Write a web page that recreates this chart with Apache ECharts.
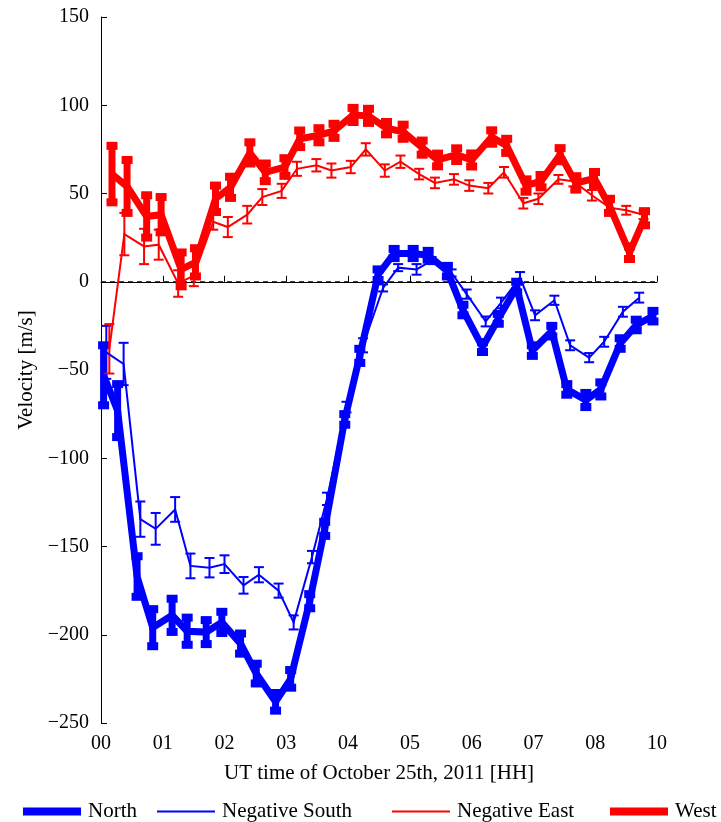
<!DOCTYPE html>
<html>
<head>
<meta charset="utf-8">
<script src="https://cdn.jsdelivr.net/npm/echarts@6/dist/echarts.min.js"></script>
<style>
html,body{margin:0;padding:0;background:#fff;}
#chart{width:721px;height:822px;}
</style>
</head>
<body>
<div id="chart"></div>
<script>
// x tick labels (axis units 0..9)
const xTickLabels = ['00','01','02','03','04','05','06','07','08','10'];
const yTicks = [-250,-200,-150,-100,-50,0,50,100,150];

// zero reference line
const zeroTime = [0, 9];
const zeroVel = [0, 0];

// North (thick blue)
const northTime = [0.042,0.269,0.584,0.837,1.151,1.395,1.703,1.956,2.259,2.513,2.826,3.070,3.378,3.621,3.946,4.189,4.485,4.745,5.053,5.296,5.607,5.859,6.175,6.431,6.729,6.982,7.297,7.540,7.848,8.091,8.404,8.664,8.935];
const northVel  = [-53,-73,-167,-196,-189,-198,-198.5,-193,-205,-222,-238,-225,-181,-140,-78,-42,4,16,16,15,6,-16,-37,-21,-3,-39,-28,-61,-67,-61,-35,-24.5,-19.5];
const northErr  = [17,15,11.5,10.5,9.4,7.7,6.8,6,5.7,5.6,5,5,4,4,3,4,3,2.6,2.6,2.5,3,3,2.8,2.8,3,3,3,3,4,4,3,3,3];

// Negative South (thin blue)
const southTime = [0.086,0.366,0.637,0.885,1.200,1.448,1.756,1.999,2.307,2.556,2.875,3.118,3.415,3.658,3.973,4.242,4.566,4.810,5.108,5.351,5.675,5.919,6.227,6.475,6.783,7.026,7.339,7.594,7.902,8.145,8.448,8.712];
const southVel  = [-40,-46.6,-134.5,-140,-129,-161,-162,-160,-172,-166,-175,-193,-156,-123,-71,-36,-3.5,8,7,12,5,-7,-22.5,-12,2.5,-19,-10.5,-36,-43,-34,-17,-9];
const southErr  = [15,12,10,9,7,7,5.5,5,4.7,4.3,4,4,3.5,3.5,3,4,2,2,3,2,2,2.6,2.8,3,3,2.8,2.6,2.8,2.6,2.8,2.8,2.8];

// Negative East (thin red)
const eastTime = [0.135,0.378,0.697,0.934,1.249,1.502,1.816,2.053,2.367,2.611,2.924,3.172,3.486,3.730,4.043,4.286,4.594,4.848,5.150,5.405,5.713,5.961,6.269,6.523,6.836,7.080,7.404,7.647,7.946,8.231,8.502,8.782];
const eastVel  = [-38,27,20,21,-1,3.5,34,31,38,48,51.5,64,66,63,65,75,63,68,61,56,58,54.5,53,62,44.5,47,58,57,49,42,40.5,38];
const eastErr  = [14,12,10,8.5,7.5,6,4.5,5.7,5,4.5,4,4,3.5,4,3.5,3.5,3.5,3.5,3,3,3,3,3,3,3,3,2.5,3,3,3,2.5,2.5];

// West (thick red)
const westTime = [0.178,0.422,0.739,0.973,1.297,1.529,1.853,2.097,2.410,2.659,2.977,3.216,3.528,3.772,4.080,4.330,4.621,4.891,5.199,5.448,5.757,6.000,6.324,6.567,6.880,7.123,7.432,7.686,7.988,8.231,8.555,8.798];
const westVel  = [61,54,37,38,7,11,47,53.5,73,62,65,81,83,85.5,94.5,94,87,85,76,69,72,69,82,77,54.5,57,72,56,58.5,43,16.5,36];
const westErr  = [16,15,12,10,9.6,8,7.5,6,6,5,5,4.7,4,4,4,4,3.5,4,4,3.6,3.6,3.7,3.8,4,3.5,3.5,3.7,3.8,3.7,4,3.6,4];

const BLUE = '#0000ff', RED = '#ff0000';
const FONT = 'Liberation Serif';

function pts(t, v) { return t.map((x, i) => [x, v[i]]); }
function errPts(t, v, e) { return t.map((x, i) => [x, v[i], e[i]]); }

function errRender(color, thick) {
  return function (params, api) {
    const x = api.value(0), y = api.value(1), e = api.value(2);
    const top = api.coord([x, y + e]);
    const bot = api.coord([x, y - e]);
    const children = [{
      type: 'line',
      shape: { x1: top[0], y1: top[1], x2: bot[0], y2: bot[1] },
      style: { stroke: color, lineWidth: thick ? 7 : 2 }
    }];
    if (thick) {
      [top, bot].forEach(p => children.push({
        type: 'rect', shape: { x: p[0] - 5.5, y: p[1] - 4, width: 11, height: 8 },
        style: { fill: color }
      }));
    } else {
      [top, bot].forEach(p => children.push({
        type: 'line', shape: { x1: p[0] - 5, y1: p[1], x2: p[0] + 5, y2: p[1] },
        style: { stroke: color, lineWidth: 2 }
      }));
    }
    return { type: 'group', children: children };
  };
}

function lineSeries(name, t, v, color, w) {
  return {
    name: name, type: 'line', data: pts(t, v), showSymbol: false, symbol: 'none',
    lineStyle: { color: color, width: w, join: 'miter' }, itemStyle: { color: color },
    animation: false, silent: true
  };
}
function errSeries(name, t, v, e, color, thick) {
  return {
    name: name, type: 'custom', data: errPts(t, v, e),
    renderItem: errRender(color, thick), animation: false, silent: true,
    encode: { x: 0, y: 1 }
  };
}

function legend(name, left, h) {
  return {
    data: [{ name: name, icon: 'rect' }], left: left, top: 796,
    itemWidth: 58, itemHeight: h, itemGap: 0,
    textStyle: { fontFamily: FONT, fontSize: 21, color: '#000', padding: [0, 0, 0, 2] },
    selectedMode: false
  };
}

const chart = echarts.init(document.getElementById('chart'), null, { renderer: 'canvas' });
chart.setOption({
  backgroundColor: '#fff',
  animation: false,
  grid: { left: 101, right: 64, top: 17, bottom: 99, containLabel: false },
  xAxis: {
    type: 'value', min: 0, max: 9, interval: 1,
    name: 'UT time of October 25th, 2011 [HH]', nameLocation: 'middle', nameGap: 40,
    nameTextStyle: { fontFamily: FONT, fontSize: 21, color: '#000' },
    axisLine: { show: true, lineStyle: { color: '#000', width: 1 } },
    axisTick: { show: true, inside: true, length: 6, lineStyle: { color: '#000' } },
    axisLabel: { fontFamily: FONT, fontSize: 20, color: '#000', margin: 11,
      formatter: v => xTickLabels[Math.round(v)] },
    splitLine: { show: false }
  },
  yAxis: {
    type: 'value', min: yTicks[0], max: yTicks[yTicks.length - 1], interval: 50,
    name: 'Velocity [m/s]', nameLocation: 'middle', nameGap: 63,
    nameTextStyle: { fontFamily: FONT, fontSize: 21, color: '#000' },
    axisLine: { show: true, lineStyle: { color: '#000', width: 1 } },
    axisTick: { show: true, inside: true, length: 6, lineStyle: { color: '#000' } },
    axisLabel: { fontFamily: FONT, fontSize: 20, color: '#000', margin: 12,
      formatter: v => (v < 0 ? '\u2212' + Math.abs(v) : String(v)) },
    splitLine: { show: false }
  },
  legend: [
    legend('North', 18, 8),
    legend('Negative South', 152, 2),
    legend('Negative East', 387, 2),
    legend('West', 605, 8)
  ],
  series: [
    {
      name: 'zero', type: 'line', data: pts(zeroTime, zeroVel), showSymbol: false, symbol: 'none',
      lineStyle: { color: '#000', width: 1, type: [5, 4] },
      animation: false, silent: true, z: 1
    },
    lineSeries('North', northTime, northVel, BLUE, 7),
    errSeries('North err', northTime, northVel, northErr, BLUE, true),
    lineSeries('Negative South', southTime, southVel, BLUE, 2),
    errSeries('South err', southTime, southVel, southErr, BLUE, false),
    lineSeries('Negative East', eastTime, eastVel, RED, 2),
    errSeries('East err', eastTime, eastVel, eastErr, RED, false),
    lineSeries('West', westTime, westVel, RED, 7),
    errSeries('West err', westTime, westVel, westErr, RED, true)
  ]
});
</script>
</body>
</html>
